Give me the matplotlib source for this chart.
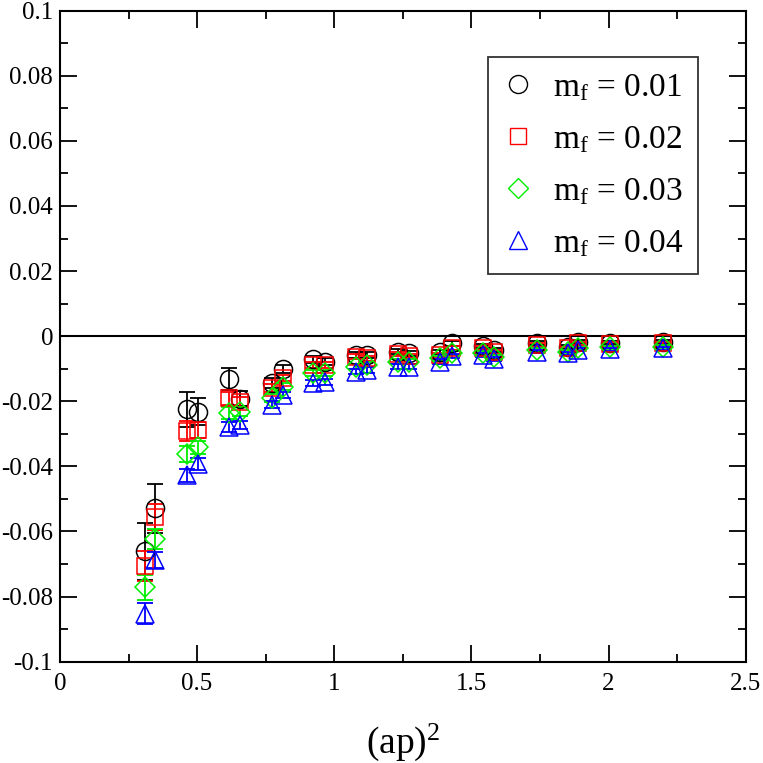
import numpy as np
import matplotlib
matplotlib.use("Agg")
import matplotlib.pyplot as plt

plt.rcParams['font.family'] = ['Liberation Serif', 'DejaVu Serif']
plt.rcParams['mathtext.fontset'] = 'custom'
plt.rcParams['mathtext.rm'] = 'Liberation Serif'
plt.rcParams['mathtext.it'] = 'Liberation Serif:italic'

ap2 = [0.31, 0.346, 0.464, 0.502, 0.617, 0.656, 0.772, 0.812, 0.923, 0.966,
       1.079, 1.12, 1.233, 1.273, 1.385, 1.428, 1.543, 1.582, 1.738, 1.853,
       1.89, 2.005, 2.197]

y_m01 = [-0.0661, -0.0529, -0.0225, -0.0232, -0.0131, -0.0192, -0.0145, -0.0102,
         -0.0071, -0.0078, -0.0058, -0.0058, -0.0048, -0.0053, -0.0048, -0.0022,
         -0.0030, -0.0042, -0.0022, -0.0032, -0.0017, -0.0020, -0.0017]
e_m01 = [0.0088, 0.0075, 0.0054, 0.0041, 0.0034, 0.0023, 0.0015, 0.0012,
         0.0010, 0.0010, 0.0008, 0.0008, 0.0008, 0.0008, 0.0007, 0.0007,
         0.0006, 0.0006, 0.0006, 0.0006, 0.0005, 0.0005, 0.0005]

y_m02 = [-0.0706, -0.0557, -0.0291, -0.0288, -0.0191, -0.0202, -0.0158, -0.0129,
         -0.0088, -0.0088, -0.0063, -0.0068, -0.0055, -0.0061, -0.0058, -0.0037,
         -0.0037, -0.0048, -0.0027, -0.0037, -0.0022, -0.0024, -0.0022]
e_m02 = [0.0045, 0.0040, 0.0030, 0.0025, 0.0020, 0.0015, 0.0012, 0.0010,
         0.0009, 0.0009, 0.0008, 0.0008, 0.0007, 0.0007, 0.0007, 0.0006,
         0.0006, 0.0006, 0.0005, 0.0005, 0.0005, 0.0005, 0.0005]

y_m03 = [-0.0771, -0.0623, -0.0363, -0.0342, -0.0237, -0.0232, -0.0191, -0.0155,
         -0.0114, -0.0114, -0.0094, -0.0088, -0.0078, -0.0078, -0.0068, -0.0053,
         -0.0053, -0.0063, -0.0042, -0.0048, -0.0037, -0.0034, -0.0032]
e_m03 = [0.0038, 0.0030, 0.0025, 0.0020, 0.0018, 0.0014, 0.0012, 0.0010,
         0.0009, 0.0009, 0.0008, 0.0008, 0.0007, 0.0007, 0.0007, 0.0006,
         0.0006, 0.0006, 0.0005, 0.0005, 0.0005, 0.0005, 0.0005]

y_m04 = [-0.0853, -0.0688, -0.0428, -0.0393, -0.0279, -0.0273, -0.0211, -0.0181,
         -0.0145, -0.0140, -0.0109, -0.0104, -0.0094, -0.0094, -0.0078, -0.0061,
         -0.0058, -0.0071, -0.0048, -0.0053, -0.0042, -0.0040, -0.0037]
e_m04 = [0.0032, 0.0025, 0.0021, 0.0018, 0.0015, 0.0013, 0.0011, 0.0010,
         0.0009, 0.0009, 0.0008, 0.0008, 0.0007, 0.0007, 0.0007, 0.0006,
         0.0006, 0.0006, 0.0005, 0.0005, 0.0005, 0.0005, 0.0005]

labels = [r'$\mathrm{m_f}$ = 0.01', r'$\mathrm{m_f}$ = 0.02',
          r'$\mathrm{m_f}$ = 0.03', r'$\mathrm{m_f}$ = 0.04']
colors = ['#000000', '#ff0000', '#00ee00', '#0000ff']
markers = ['o', 's', 'D', '^']
msizes = [13, 11, 10, 13]

xticks = [0, 0.5, 1, 1.5, 2, 2.5]
xticklabels = ['0', '0.5', '1', '1.5', '2', '2.5']
yticks = [-0.1, -0.08, -0.06, -0.04, -0.02, 0, 0.02, 0.04, 0.06, 0.08, 0.1]
yticklabels = ['-0.1', '-0.08', '-0.06', '-0.04', '-0.02', '0',
               '0.02', '0.04', '0.06', '0.08', '0.1']

fig = plt.figure(figsize=(7.63, 7.63), dpi=100)
ax = fig.add_axes([0.0786, 0.1328, 0.9773 - 0.0786, 0.986 - 0.1328])

ax.axhline(0, color='black', lw=1.5, zorder=1)

series = [(y_m01, e_m01), (y_m02, e_m02), (y_m03, e_m03), (y_m04, e_m04)]
for (yv, ev), c, m, ms, lab in zip(series, colors, markers, msizes, labels):
    ax.errorbar(ap2, yv, yerr=ev, fmt='none', ecolor=c, elinewidth=1.3,
                capsize=6, capthick=1.3, zorder=2)
    ax.plot(ap2, yv, linestyle='none', marker=m, markersize=ms,
            markerfacecolor='none', markeredgecolor=c, markeredgewidth=1.1,
            label=lab, zorder=3)

ax.set_xlim(0, 2.5)
ax.set_ylim(-0.1, 0.1)
ax.set_xticks(xticks)
ax.set_xticklabels(xticklabels)
ax.set_xticks(np.arange(0.25, 2.5, 0.5), minor=True)
ax.set_yticks(yticks)
ax.set_yticklabels(yticklabels)
ax.set_yticks(np.arange(-0.09, 0.1, 0.02), minor=True)

ax.tick_params(which='both', direction='in', top=True, right=True,
               labelsize=18, width=1.3)
ax.tick_params(axis='x', pad=8)
ax.tick_params(axis='y', pad=5)
ax.tick_params(which='major', length=12)
ax.tick_params(which='minor', length=6)
for s in ax.spines.values():
    s.set_linewidth(1.5)

fig.text(0.528, 0.0131, r'(ap)$^2$', ha='center', va='baseline', fontsize=27)

leg_handles = [plt.Line2D([], [], linestyle='none', marker=m, markersize=ms,
                          markerfacecolor='none', markeredgecolor=c,
                          markeredgewidth=1.0)
               for c, m, ms in zip(colors, markers, msizes)]
leg = ax.legend(handles=leg_handles, labels=labels, loc='upper left',
                bbox_to_anchor=(0.624, 0.929),
                fontsize=24, frameon=True, fancybox=False, edgecolor='black',
                borderpad=0.45, labelspacing=0.64, handlelength=0.9,
                handletextpad=0.6, borderaxespad=0)
leg.get_frame().set_linewidth(1.3)

fig.savefig('out.png', dpi=100)
